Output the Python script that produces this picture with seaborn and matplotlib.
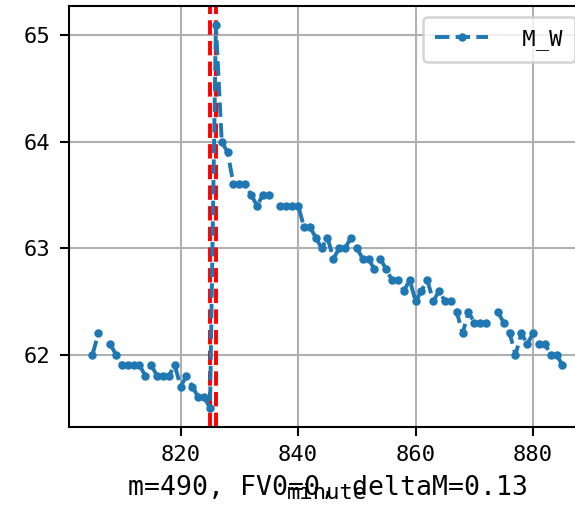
import matplotlib
matplotlib.use("Agg")
import matplotlib.pyplot as plt
import seaborn as sns
import numpy as np
import pandas as pd

plt.rcParams['font.family'] = ['DejaVu Sans Mono']

# minute index and M_W value (NaN = missing minute)
minutes = list(range(805, 886))
m_w = [62.0, 62.2, np.nan, 62.1, 62.0, 61.9, 61.9, 61.9, 61.9, 61.8,
       61.9, 61.8, 61.8, 61.8, 61.9, 61.7, 61.8, 61.7, 61.6, 61.6,
       61.5, 65.1, 64.0, 63.9, 63.6, 63.6, 63.6, 63.5, 63.4, 63.5,
       63.5, np.nan, 63.4, 63.4, 63.4, 63.4, 63.2, 63.2, 63.1, 63.0,
       63.1, 62.9, 63.0, 63.0, 63.1, 63.0, 62.9, 62.9, 62.8, 62.9,
       62.8, 62.7, 62.7, 62.6, 62.7, 62.5, 62.6, 62.7, 62.5, 62.6,
       62.5, 62.5, 62.4, 62.2, 62.4, 62.3, 62.3, 62.3, np.nan, 62.4,
       62.3, 62.2, 62.0, 62.2, 62.1, 62.2, 62.1, 62.1, 62.0, 62.0,
       61.9]
event_minutes = [825, 826]
note = "m=490, FV0=0, deltaM=0.13"

df = pd.DataFrame({'minute': minutes, 'M_W': m_w})
df['seg'] = df['M_W'].isna().cumsum()
df = df.dropna()

DPI = 187
fig = plt.figure(figsize=(575 / DPI, 508 / DPI), dpi=DPI)
ax = fig.add_axes([69 / 575, 1 - 427 / 508, (586 - 69) / 575, (427 - 5.5) / 508])

sns.lineplot(data=df, x='minute', y='M_W', units='seg', estimator=None,
             color='#1f77b4', linestyle='--', marker='.', markeredgewidth=0,
             markersize=6.5, ax=ax)
seg_lines = list(ax.lines)

for m in event_minutes:
    ax.axvline(m, color='red', linestyle='--', zorder=1.8)

ax.grid(True, color='#b0b0b0', linewidth=0.8)
ax.set_axisbelow(True)
ax.set_xticks([820, 840, 860, 880])
ax.set_yticks([62, 63, 64, 65])
ax.tick_params(labelsize=8.5)
ax.set_ylabel('')
ax.set_xlabel('minute', fontsize=8.5, labelpad=7)

ax.legend(handles=[seg_lines[0]], labels=[' M_W'], loc='upper right',
          fontsize=8.5, handlelength=2.4, handletextpad=0.95, borderpad=0.55)

fig.text(327.5 / 575, 1 - 495 / 508, note, ha='center', va='baseline', fontsize=10.2)

fig.savefig('out.png', dpi=DPI)
